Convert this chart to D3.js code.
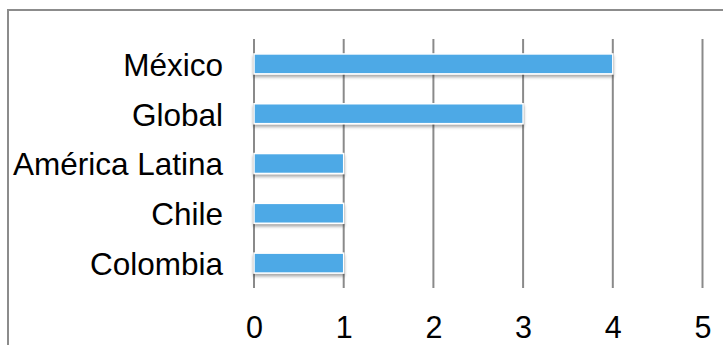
<!DOCTYPE html>
<html>
<head>
<meta charset="utf-8">
<script src="https://cdn.jsdelivr.net/npm/d3@7"></script>
<style>
  html, body { margin: 0; padding: 0; background: #fff; }
  svg { display: block; }
</style>
</head>
<body>
<svg id="chart" width="723" height="345"></svg>
<script>
// Categories (top to bottom) and their values
const categories = ["México", "Global", "América Latina", "Chile", "Colombia"];
const values = [4, 3, 1, 1, 1];
const tickValues = [0, 1, 2, 3, 4, 5];

const svg = d3.select("#chart");
const W = 723, H = 345;
const FONT = "Liberation Sans, Arial, Helvetica, sans-serif";

// Outer frame (only top and left edges are visible within the view)
svg.append("path")
  .attr("d", `M8,${H + 5} L8,10 L${W + 5},10`)
  .attr("fill", "none")
  .attr("stroke", "#8c8c8c")
  .attr("stroke-width", 2);

const plot = { left: 254, right: 702.5, top: 39, bottom: 288 };

const x = d3.scaleLinear().domain([0, 5]).range([plot.left, plot.right]);
const y = d3.scaleBand().domain(categories).range([plot.top, plot.bottom]).paddingInner(0.6).paddingOuter(0.3);

// Drop shadow for bars
const defs = svg.append("defs");
const f = defs.append("filter").attr("id", "shadow").attr("x", "-10%").attr("y", "-40%").attr("width", "120%").attr("height", "200%");
f.append("feDropShadow").attr("dx", 0).attr("dy", 2.5).attr("stdDeviation", 1.6).attr("flood-color", "#000").attr("flood-opacity", 0.35);

// Vertical gridlines
svg.append("g")
  .selectAll("line")
  .data(tickValues)
  .join("line")
  .attr("x1", d => x(d)).attr("x2", d => x(d))
  .attr("y1", plot.top).attr("y2", plot.bottom)
  .attr("stroke", "#8a8a8a")
  .attr("stroke-width", 2);

// Bars
svg.append("g")
  .selectAll("rect")
  .data(categories)
  .join("rect")
  .attr("x", x(0))
  .attr("y", d => y(d))
  .attr("width", (d, i) => x(values[i]) - x(0))
  .attr("height", y.bandwidth())
  .attr("fill", "#4da9e6")
  .attr("stroke", "#ffffff")
  .attr("stroke-width", 1.5)
  .attr("filter", "url(#shadow)");

// Category labels
const yAxis = d3.axisLeft(y).tickSize(0).tickPadding(0);
svg.append("g")
  .attr("transform", `translate(${plot.left - 31},0)`)
  .call(yAxis)
  .call(g => g.select(".domain").remove())
  .call(g => g.selectAll("text")
    .attr("dy", "0.38em")
    .style("font-size", "31.5px")
    .style("font-family", FONT)
    .style("fill", "#000"));

// Value axis labels
const xAxis = d3.axisBottom(x).tickValues(tickValues).tickFormat(d3.format("d")).tickSize(0).tickPadding(0);
svg.append("g")
  .attr("transform", `translate(0,${plot.bottom + 28})`)
  .call(xAxis)
  .call(g => g.select(".domain").remove())
  .call(g => g.selectAll("text")
    .attr("dy", "0.71em")
    .style("font-size", "30.5px")
    .style("font-family", FONT)
    .style("fill", "#000"));
</script>
</body>
</html>
